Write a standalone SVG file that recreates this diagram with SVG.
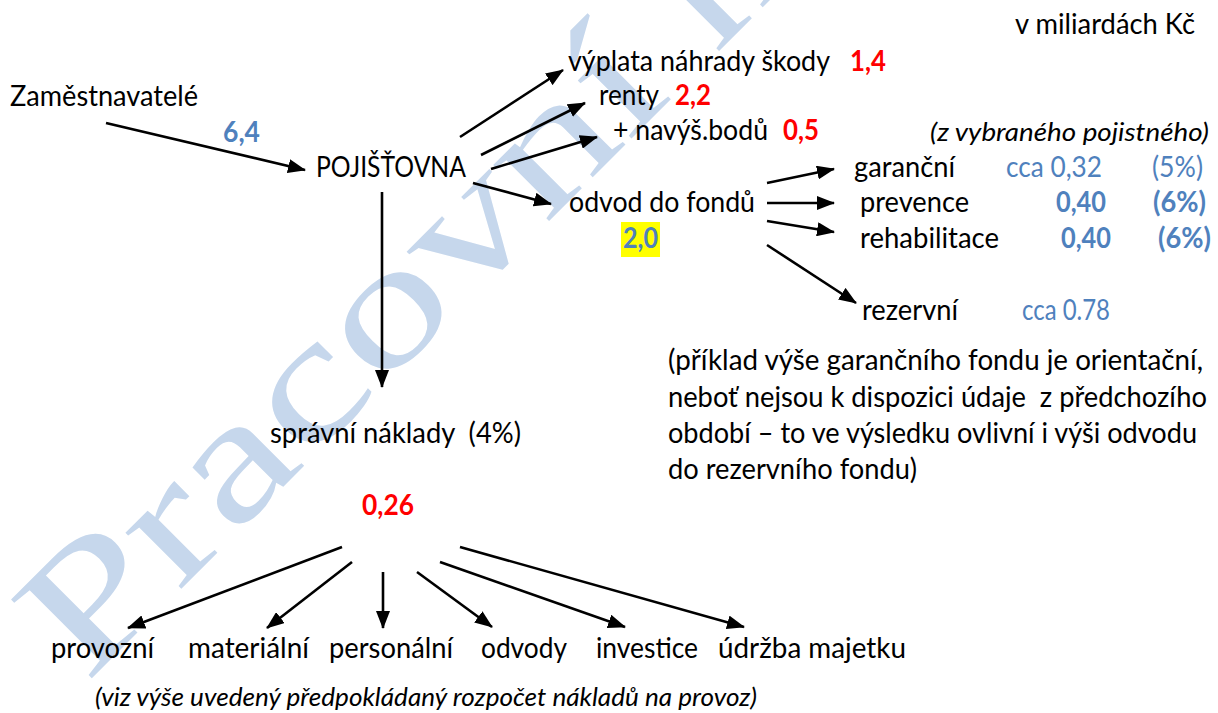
<svg xmlns="http://www.w3.org/2000/svg" width="1218" height="713" viewBox="0 0 1218 713">
<style>
text{font-family:Lato,"Noto Sans",sans-serif;font-size:28px;fill:#000}
.b{font-weight:bold}
.red{fill:#ff0000;font-weight:bold}
.blue{fill:#4f81bd}
.it{font-style:italic;font-size:25px}
.wm{font-family:"Liberation Serif","Times New Roman",serif;font-size:172px;fill:#c6d7ec}
.con line{stroke:#000;stroke-width:2.6;marker-end:url(#ah)}
</style>
<defs>
<marker id="ah" viewBox="0 0 18 14" refX="17" refY="7" markerWidth="18" markerHeight="14" markerUnits="userSpaceOnUse" orient="auto">
<path d="M0,0 L18,7 L0,14 Z" fill="#000"/>
</marker>
</defs>
<rect width="1218" height="713" fill="#fff"/>
<g id="watermark">
<text class="wm" transform="translate(86,684) rotate(-45) scale(1.36,1)">Pracovní návrh</text>
</g>
<g id="connectors" class="con">
<line x1="106" y1="123" x2="305" y2="170"/>
<line x1="460" y1="137" x2="563" y2="70"/>
<line x1="481" y1="155" x2="585" y2="103"/>
<line x1="491" y1="169" x2="597" y2="137"/>
<line x1="473" y1="183" x2="551" y2="204"/>
<line x1="382" y1="192" x2="382" y2="387"/>
<line x1="767" y1="183" x2="834" y2="169"/>
<line x1="767" y1="203" x2="834" y2="203"/>
<line x1="767" y1="221" x2="834" y2="232"/>
<line x1="767" y1="245" x2="856" y2="303"/>
<line x1="342" y1="547" x2="128" y2="628"/>
<line x1="352" y1="562" x2="267" y2="628"/>
<line x1="383" y1="572" x2="383" y2="628"/>
<line x1="417" y1="572" x2="492" y2="627"/>
<line x1="440" y1="562" x2="625" y2="627"/>
<line x1="460" y1="547" x2="744" y2="627"/>
</g>
<g id="units"><text x="1015" y="34" textLength="180" lengthAdjust="spacingAndGlyphs">v miliardách Kč</text></g>
<g id="employers"><text x="10" y="106" textLength="188" lengthAdjust="spacingAndGlyphs">Zaměstnavatelé</text>
<text class="b blue" x="223" y="142" textLength="37" lengthAdjust="spacingAndGlyphs">6,4</text></g>
<g id="insurer"><text x="316" y="177" textLength="150" lengthAdjust="spacingAndGlyphs">POJIŠŤOVNA</text></g>
<g id="payout"><text x="568" y="71" textLength="262" lengthAdjust="spacingAndGlyphs">výplata náhrady škody</text>
<text class="red" x="850" y="71" textLength="36" lengthAdjust="spacingAndGlyphs">1,4</text></g>
<g id="annuities"><text x="599" y="105" textLength="60" lengthAdjust="spacingAndGlyphs">renty</text>
<text class="red" x="675" y="105" textLength="36" lengthAdjust="spacingAndGlyphs">2,2</text></g>
<g id="increase"><text x="613" y="140" textLength="155" lengthAdjust="spacingAndGlyphs">+ navýš.bodů</text>
<text class="red" x="783" y="140" textLength="36" lengthAdjust="spacingAndGlyphs">0,5</text></g>
<g id="note-premium"><text class="it" x="930" y="141" textLength="279" lengthAdjust="spacingAndGlyphs">(z vybraného pojistného)</text></g>
<g id="funds"><text x="569" y="212" textLength="186" lengthAdjust="spacingAndGlyphs">odvod do fondů</text>
<rect x="621" y="222" width="39" height="35" fill="#ffff00"/>
<text class="b blue" x="623" y="248" textLength="35" lengthAdjust="spacingAndGlyphs">2,0</text></g>
<g id="guarantee"><text x="854" y="177" textLength="101" lengthAdjust="spacingAndGlyphs">garanční</text>
<text class="blue" x="1006" y="177" textLength="96" lengthAdjust="spacingAndGlyphs">cca 0,32</text>
<text class="blue" x="1152" y="177" textLength="51" lengthAdjust="spacingAndGlyphs">(5%)</text></g>
<g id="prevention"><text x="860" y="212" textLength="109" lengthAdjust="spacingAndGlyphs">prevence</text>
<text class="b blue" x="1056" y="212" textLength="50" lengthAdjust="spacingAndGlyphs">0,40</text>
<text class="b blue" x="1153" y="212" textLength="53" lengthAdjust="spacingAndGlyphs">(6%)</text></g>
<g id="rehab"><text x="860" y="248" textLength="139" lengthAdjust="spacingAndGlyphs">rehabilitace</text>
<text class="b blue" x="1061" y="248" textLength="50" lengthAdjust="spacingAndGlyphs">0,40</text>
<text class="b blue" x="1158" y="248" textLength="53" lengthAdjust="spacingAndGlyphs">(6%)</text></g>
<g id="reserve"><text x="862" y="320" textLength="96" lengthAdjust="spacingAndGlyphs">rezervní</text>
<text class="blue" x="1022" y="320" textLength="88" lengthAdjust="spacingAndGlyphs">cca 0.78</text></g>
<g id="note-fund">
<text x="668" y="370" textLength="535" lengthAdjust="spacingAndGlyphs">(příklad výše garančního fondu je orientační,</text>
<text x="668" y="407" textLength="539" lengthAdjust="spacingAndGlyphs" xml:space="preserve">neboť nejsou k dispozici údaje  z předchozího</text>
<text x="668" y="443" textLength="529" lengthAdjust="spacingAndGlyphs">období – to ve výsledku ovlivní i výši odvodu</text>
<text x="668" y="479" textLength="249" lengthAdjust="spacingAndGlyphs">do rezervního fondu)</text>
</g>
<g id="admin"><text x="270" y="443" textLength="251" lengthAdjust="spacingAndGlyphs" xml:space="preserve">správní náklady  (4%)</text>
<text class="red" x="362" y="515" textLength="52" lengthAdjust="spacingAndGlyphs">0,26</text></g>
<g id="op"><text x="51" y="658" textLength="103" lengthAdjust="spacingAndGlyphs">provozní</text></g>
<g id="mat"><text x="188" y="658" textLength="121" lengthAdjust="spacingAndGlyphs">materiální</text></g>
<g id="pers"><text x="329" y="658" textLength="124" lengthAdjust="spacingAndGlyphs">personální</text></g>
<g id="lev"><text x="481" y="658" textLength="86" lengthAdjust="spacingAndGlyphs">odvody</text></g>
<g id="inv"><text x="596" y="658" textLength="102" lengthAdjust="spacingAndGlyphs">investice</text></g>
<g id="maint"><text x="718" y="658" textLength="188" lengthAdjust="spacingAndGlyphs">údržba majetku</text></g>
<g id="note-budget"><text class="it" x="95" y="706" textLength="662" lengthAdjust="spacingAndGlyphs">(viz výše uvedený předpokládaný rozpočet nákladů na provoz)</text></g>
</svg>
